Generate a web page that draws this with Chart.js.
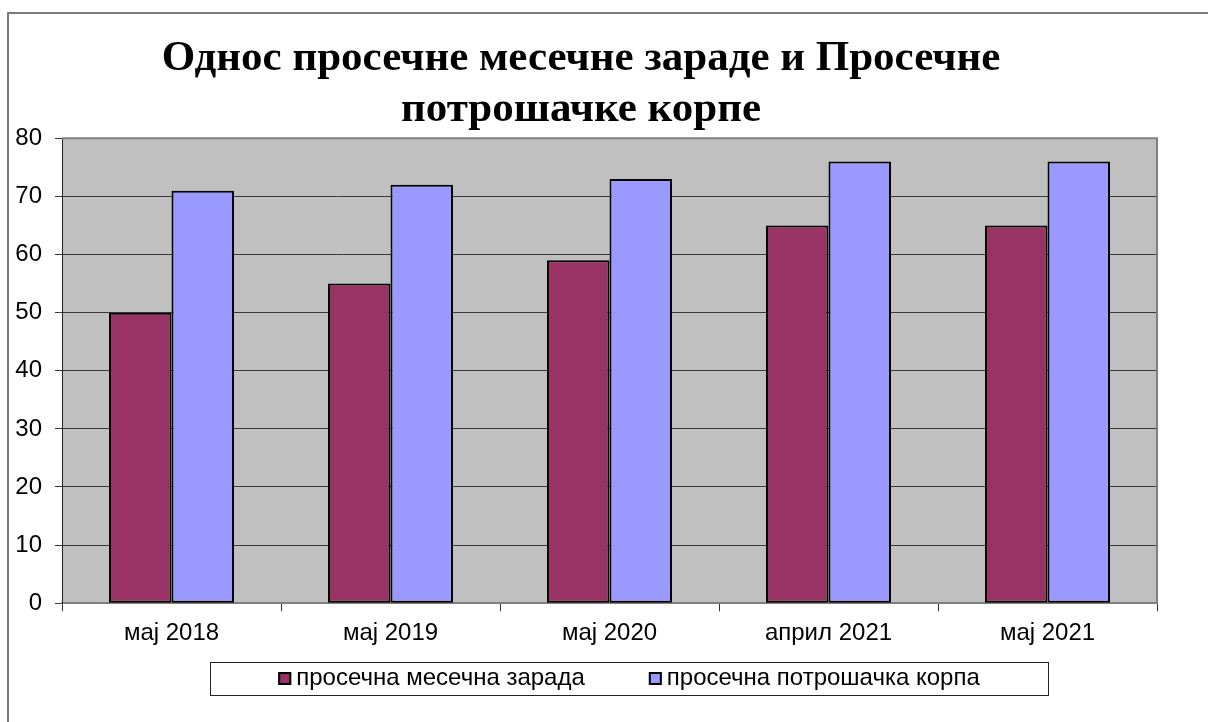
<!DOCTYPE html>
<html>
<head>
<meta charset="utf-8">
<script src="https://cdn.jsdelivr.net/npm/chart.js@4"></script>
<style>
  html, body { margin: 0; padding: 0; background: #fff; }
  #wrap { position: absolute; left: 0; top: 0; width: 1208px; height: 722px; }
</style>
</head>
<body>
<div id="wrap"><canvas id="c" width="1208" height="722"></canvas></div>
<script>
const categories = ['мај 2018', 'мај 2019', 'мај 2020', 'април 2021', 'мај 2021'];
const salary = [50, 55, 59, 65, 65];
const basket = [71, 72, 73, 76, 76];
const seriesNames = ['просечна месечна зарада', 'просечна потрошачка корпа'];
const titleLines = ['Однос просечне месечне зараде и Просечне', 'потрошачке корпе'];
const yTicks = { min: 0, max: 80, step: 10 };

Chart.defaults.font.family = "'Liberation Sans', Arial, sans-serif";
Chart.defaults.font.size = 24;
Chart.defaults.color = '#000';

const framePlugin = {
  id: 'frame',
  beforeDraw(chart) {
    const { ctx, chartArea: a } = chart;
    ctx.save();
    ctx.fillStyle = '#fff';
    ctx.fillRect(0, 0, chart.width, chart.height);
    ctx.strokeStyle = '#7a7a7a';
    ctx.lineWidth = 2;
    ctx.strokeRect(8, 13, 1400, 1000);
    ctx.fillStyle = '#C0C0C0';
    ctx.fillRect(a.left, a.top, a.right - a.left, a.bottom - a.top);
    ctx.restore();
  },
  beforeDatasetsDraw(chart) {
    const { ctx, chartArea: a } = chart;
    ctx.save();
    ctx.strokeStyle = '#808080';
    ctx.lineWidth = 2;
    ctx.beginPath();
    ctx.moveTo(a.left, a.top);
    ctx.lineTo(a.right, a.top);
    ctx.lineTo(a.right, a.bottom);
    ctx.stroke();
    ctx.restore();
  },
  afterDraw(chart) {
    const { ctx } = chart;
    const boxL = 210, boxR = 1048, boxT = 662, boxB = 695;
    const sq = 13, gap = 5, spacing = 64;
    ctx.save();
    ctx.font = "24px 'Liberation Sans', Arial, sans-serif";
    const widths = chart.data.datasets.map(d => ctx.measureText(d.label).width);
    let total = 0;
    widths.forEach((w, i) => { total += sq + gap + w + (i < widths.length - 1 ? spacing : 0); });
    ctx.fillStyle = '#fff';
    ctx.fillRect(boxL, boxT, boxR - boxL, boxB - boxT);
    ctx.strokeStyle = '#222';
    ctx.lineWidth = 1;
    ctx.strokeRect(boxL + 0.5, boxT + 0.5, boxR - boxL, boxB - boxT);
    let x = (boxL + boxR) / 2 - total / 2;
    const cy = (boxT + boxB) / 2;
    chart.data.datasets.forEach((d, i) => {
      ctx.fillStyle = d.backgroundColor;
      ctx.fillRect(x, cy - sq / 2, sq, sq);
      ctx.strokeStyle = '#000';
      ctx.lineWidth = 2;
      ctx.strokeRect(x + 1, cy - sq / 2 + 1, sq - 2, sq - 2);
      ctx.fillStyle = '#000';
      ctx.textBaseline = 'middle';
      ctx.textAlign = 'left';
      ctx.fillText(d.label, x + sq + gap, cy);
      x += sq + gap + widths[i] + spacing;
    });
    ctx.restore();
  }
};

new Chart(document.getElementById('c'), {
  type: 'bar',
  data: {
    labels: categories,
    datasets: [
      { label: seriesNames[0], data: salary, backgroundColor: '#993366', borderColor: '#000', borderWidth: 2, borderSkipped: false },
      { label: seriesNames[1], data: basket, backgroundColor: '#9999FF', borderColor: '#000', borderWidth: 2, borderSkipped: false }
    ]
  },
  options: {
    responsive: false,
    animation: false,
    devicePixelRatio: 1,
    layout: { padding: { left: 5, right: 51, top: 0, bottom: 66 } },
    datasets: { bar: { categoryPercentage: 0.571, barPercentage: 1.0 } },
    plugins: {
      legend: { display: false },
      tooltip: { enabled: false },
      title: {
        display: true,
        text: titleLines,
        color: '#000',
        font: { family: "'Liberation Serif', 'Times New Roman', serif", size: 43, weight: 'bold', lineHeight: 1.19 },
        padding: { top: 33, bottom: 3 }
      }
    },
    scales: {
      x: {
        grid: { display: true, drawOnChartArea: false, drawTicks: true, tickLength: 8, color: '#333', offset: true },
        border: { display: true, color: '#808080', width: 2 },
        ticks: { padding: 8, color: '#000', font: { size: 24 }, maxRotation: 0 }
      },
      y: {
        min: yTicks.min,
        max: yTicks.max,
        ticks: { stepSize: yTicks.step, padding: 13, color: '#000', font: { size: 24 } },
        grid: { color: '#3a3a3a', lineWidth: 1, tickLength: 7, drawTicks: true },
        border: { display: true, color: '#222', width: 1 },
        afterFit(scale) { scale.width = 57; }
      }
    }
  },
  plugins: [framePlugin]
});
</script>
</body>
</html>
